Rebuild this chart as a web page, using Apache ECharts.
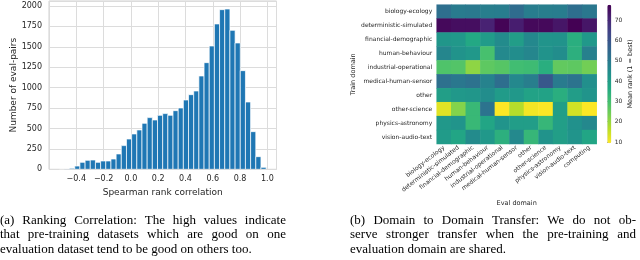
<!DOCTYPE html>
<html>
<head>
<meta charset="utf-8">
<script src="https://cdn.jsdelivr.net/npm/echarts@6/dist/echarts.min.js"></script>
<style>
html,body{margin:0;padding:0;background:#fff;}
#chart{width:640px;height:260px;}
</style>
</head>
<body>
<div id="chart"></div>
<script>
// ---------- data: (a) histogram of Spearman rank correlations ----------
const corrBinStart = -0.525;
const corrBinWidth = 0.0379;
const corrCounts = [1, 4, 12, 40, 85, 110, 114, 85, 102, 102, 126, 188, 290, 371, 433, 482, 563, 633, 604, 661,
                    682, 661, 718, 751, 849, 914, 959, 1143, 1306, 1510, 1780, 1955, 1963, 1702, 1547, 1208, 824, 461, 155, 24];
const corrTicks = [-0.4, -0.2, 0.0, 0.2, 0.4, 0.6, 0.8, 1.0];
const countTicks = [0, 250, 500, 750, 1000, 1250, 1500, 1750, 2000];

// ---------- data: (b) domain-to-domain transfer (mean rank) ----------
const trainDomains = ['biology-ecology', 'deterministic-simulated', 'financial-demographic', 'human-behaviour',
  'industrial-operational', 'medical-human-sensor', 'other', 'other-science', 'physics-astronomy', 'vision-audio-text'];
const evalDomains = ['biology-ecology', 'deterministic-simulated', 'financial-demographic', 'human-behaviour',
  'industrial-operational', 'medical-human-sensor', 'other', 'other-science', 'physics-astronomy', 'vision-audio-text', 'computing'];
const rowBiology      = [52.8, 49.4, 50.0, 48.5, 49.0, 53.5, 49.0, 48.5, 49.0, 53.0, 50.5];
const rowDeterministic= [76.0, 75.0, 75.0, 71.0, 77.0, 72.0, 76.0, 76.0, 73.5, 77.5, 73.5];
const rowFinancial    = [42.0, 41.5, 36.5, 40.5, 45.0, 40.0, 46.0, 42.5, 43.0, 35.0, 41.5];
const rowHuman        = [46.5, 43.0, 41.5, 29.5, 45.5, 44.5, 46.5, 43.0, 44.5, 34.5, 48.0];
const rowIndustrial   = [28.5, 28.0, 21.0, 26.5, 27.5, 30.5, 31.0, 35.0, 26.0, 26.5, 24.0];
const rowMedical      = [52.5, 50.5, 52.0, 47.5, 53.0, 46.0, 48.5, 59.0, 49.5, 51.5, 44.0];
const rowOther        = [39.5, 41.5, 42.0, 44.5, 40.5, 41.5, 38.5, 38.5, 35.0, 40.0, 42.5];
const rowOtherScience = [12.5, 22.0, 32.0, 51.5, 9.4, 17.0, 10.5, 9.5, 39.5, 14.0, 9.5];
const rowPhysics      = [41.5, 42.5, 32.0, 37.5, 42.5, 40.0, 40.0, 32.5, 39.5, 43.5, 46.0];
const rowVision       = [40.5, 37.5, 45.0, 41.5, 34.5, 45.5, 32.5, 43.0, 39.5, 42.5, 37.5];
const rankRows = [rowBiology, rowDeterministic, rowFinancial, rowHuman, rowIndustrial, rowMedical,
  rowOther, rowOtherScience, rowPhysics, rowVision];
const rankMin = 9.4, rankMax = 77.5;
const colorbarTicks = [10, 20, 30, 40, 50, 60, 70];

// ---------- captions ----------
const captionA = [
  '(a) Ranking Correlation: The high values indicate',
  'that pre-training datasets which are good on one',
  'evaluation dataset tend to be good on others too.'
];
const captionB = [
  '(b) Domain to Domain Transfer:  We do not ob-',
  'serve stronger transfer when the pre-training and',
  'evaluation domain are shared.'
];

// ---------- build ----------
const viridisR = ['#fde725', '#bddf26', '#7ad151', '#44bf70', '#22a884', '#21918c',
  '#2a788e', '#355f8d', '#414487', '#482475', '#440154'];
const txt = '#262626';
const sans = 'DejaVu Sans';

const histData = corrCounts.map((c, i) => [corrBinStart + i * corrBinWidth, corrBinStart + (i + 1) * corrBinWidth, c]);
const heatData = [];
rankRows.forEach((row, r) => row.forEach((v, c) => heatData.push([c, r, v])));

const fmtMinus = v => (v < 0 ? '\u2212' + Math.abs(v).toFixed(1) : v.toFixed(1));

// justified caption text
const capFont = '13px "Liberation Serif"';
const mctx = document.createElement('canvas').getContext('2d');
mctx.font = capFont;
function captionGraphics(lines, x0, width, ys) {
  const out = [];
  lines.forEach((line, li) => {
    const justify = li < lines.length - 1;
    if (!justify) {
      out.push({type: 'text', x: x0, y: ys[li], style: {text: line, font: capFont, fill: '#000', verticalAlign: 'middle'}});
      return;
    }
    const words = line.split(/\s+/);
    const ws = words.map(w => mctx.measureText(w).width);
    const total = ws.reduce((a, b) => a + b, 0);
    const gap = (width - total) / (words.length - 1);
    let x = x0;
    words.forEach((w, i) => {
      out.push({type: 'text', x: x, y: ys[li], style: {text: w, font: capFont, fill: '#000', verticalAlign: 'middle'}});
      x += ws[i] + gap;
    });
  });
  return out;
}

const chart = echarts.init(document.getElementById('chart'), null, {renderer: 'canvas'});
chart.setOption({
  animation: false,
  backgroundColor: '#fff',
  textStyle: {fontFamily: sans, color: txt},
  grid: [
    {left: 49, top: 1, width: 227.5, height: 168.3, show: true, borderColor: '#d0d0d0', borderWidth: 1, containLabel: false},
    {left: 436.7, top: 4.7, width: 160, height: 139.3, containLabel: false},
    {left: 607.3, top: 4.7, width: 4, height: 138.6, containLabel: false}
  ],
  xAxis: [
    {gridIndex: 0, type: 'value', min: -0.6, max: 1.067, interval: 0.2,
      axisLine: {show: false}, axisTick: {show: false},
      axisLabel: {fontSize: 8, color: txt, margin: 6, fontFamily: sans, showMinLabel: false, showMaxLabel: false,
        formatter: v => (corrTicks.some(t => Math.abs(t - v) < 1e-6) ? fmtMinus(v) : '')},
      splitLine: {show: true, lineStyle: {color: '#dcdcdc', width: 1}},
      name: 'Spearman rank correlation', nameLocation: 'middle', nameGap: 16,
      nameTextStyle: {fontSize: 9, color: txt, fontFamily: sans}},
    {gridIndex: 1, type: 'category', data: evalDomains,
      axisLine: {show: false}, axisTick: {show: false},
      axisLabel: {interval: 0, rotate: 38, fontSize: 6, color: txt, margin: 3, fontFamily: sans},
      splitLine: {show: false},
      name: 'Eval domain', nameLocation: 'middle', nameGap: 48,
      nameTextStyle: {fontSize: 6.5, color: txt, fontFamily: sans}},
    {gridIndex: 2, type: 'value', show: false, min: 0, max: 1}
  ],
  yAxis: [
    {gridIndex: 0, type: 'value', min: 0, max: 2061, interval: 250,
      axisLine: {show: false}, axisTick: {show: false},
      axisLabel: {fontSize: 8, color: txt, margin: 7, fontFamily: sans, showMaxLabel: false,
        formatter: v => (countTicks.indexOf(v) >= 0 ? String(v) : '')},
      splitLine: {show: true, lineStyle: {color: '#dcdcdc', width: 1}},
      name: 'Number of eval-pairs', nameLocation: 'middle', nameGap: 29, nameRotate: 90,
      nameTextStyle: {fontSize: 9, color: txt, fontFamily: sans}},
    {gridIndex: 1, type: 'category', data: trainDomains, inverse: true,
      axisLine: {show: false}, axisTick: {show: false},
      axisLabel: {interval: 0, fontSize: 6, color: txt, margin: 4.5, fontFamily: sans},
      splitLine: {show: false},
      name: 'Train domain', nameLocation: 'middle', nameGap: 77, nameRotate: 90,
      nameTextStyle: {fontSize: 6.5, color: txt, fontFamily: sans}},
    {gridIndex: 2, type: 'value', min: rankMin, max: rankMax, position: 'right',
      axisLine: {show: false},
      axisTick: {show: true, length: 2, customValues: colorbarTicks, lineStyle: {color: txt, width: 0.6}},
      axisLabel: {fontSize: 6, color: txt, margin: 3.5, fontFamily: sans, customValues: colorbarTicks},
      splitLine: {show: false},
      name: 'Mean rank (1 = best)', nameLocation: 'middle', nameGap: 16, nameRotate: 90,
      nameTextStyle: {fontSize: 6.5, color: txt, fontFamily: sans}}
  ],
  visualMap: {
    type: 'continuous', seriesIndex: 1, min: rankMin, max: rankMax,
    orient: 'vertical', left: 607.3, top: 4.7, itemWidth: 4, itemHeight: 138.6, padding: 0,
    calculable: false, hoverLink: false, text: null,
    inRange: {color: viridisR}
  },
  series: [
    {type: 'custom', xAxisIndex: 0, yAxisIndex: 0, data: histData, clip: true,
      encode: {x: [0, 1], y: 2},
      renderItem: function (params, api) {
        const p0 = api.coord([api.value(0), api.value(2)]);
        const p1 = api.coord([api.value(1), 0]);
        return {type: 'rect',
          shape: {x: p0[0], y: p0[1], width: p1[0] - p0[0], height: p1[1] - p0[1]},
          style: {fill: '#1f77b4', stroke: '#ffffff', lineWidth: 0.7}};
      }},
    {type: 'heatmap', xAxisIndex: 1, yAxisIndex: 1, data: heatData, itemStyle: {borderWidth: 0}}
  ],
  graphic: captionGraphics(captionA, 0, 286, [220.5, 235, 249.5])
    .concat(captionGraphics(captionB, 350, 286, [220.5, 235, 249.5]))
});
</script>
</body>
</html>
